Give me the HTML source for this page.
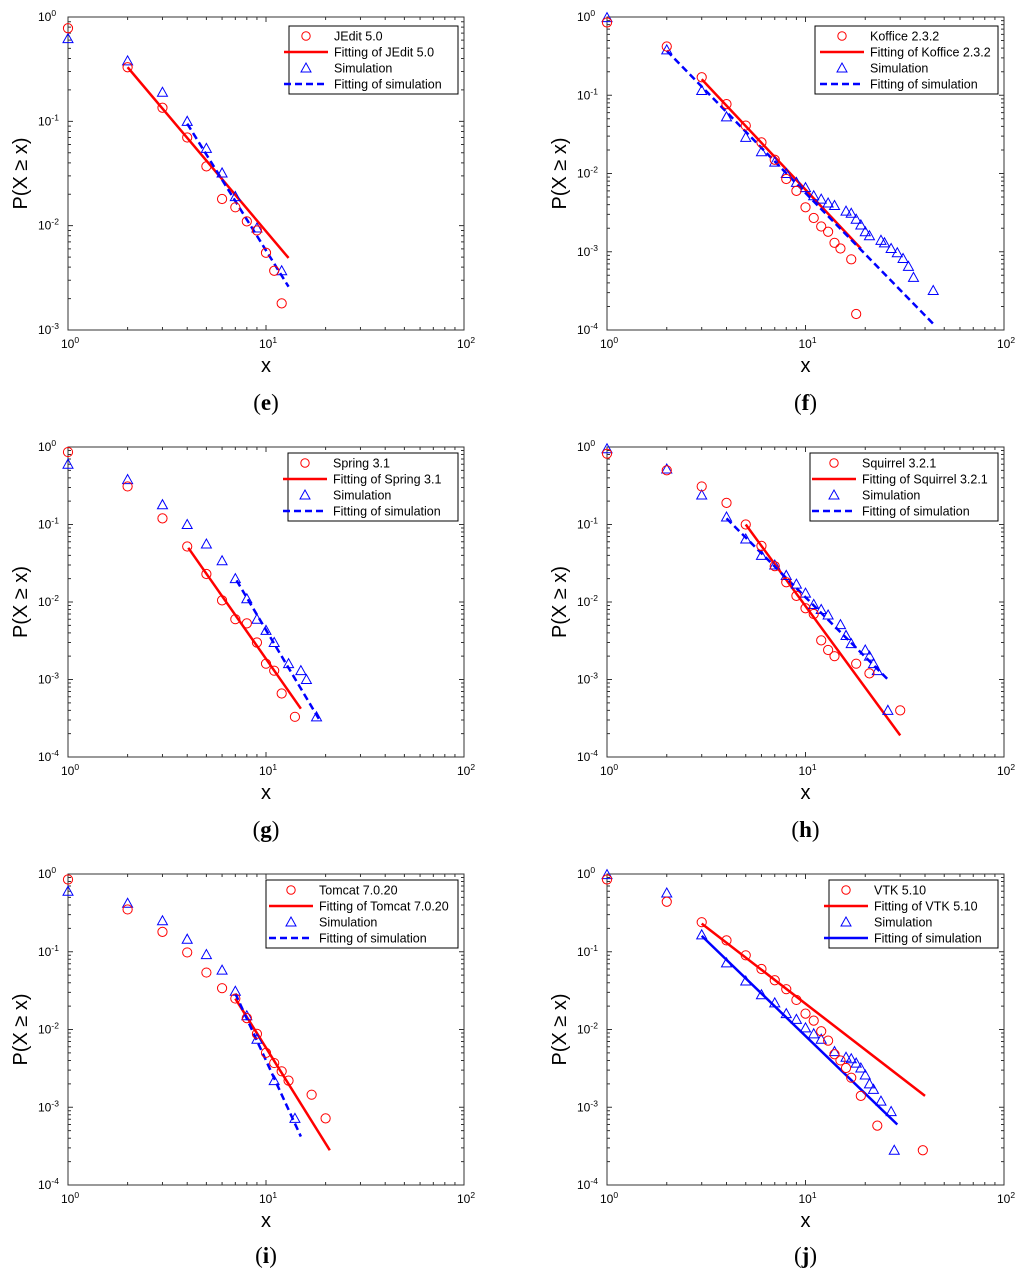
<!DOCTYPE html>
<html><head><meta charset="utf-8">
<style>
html,body{margin:0;padding:0;background:#fff;}
svg{display:block;}
text{font-family:"Liberation Sans",sans-serif;}
text.cap{font-family:"Liberation Serif",serif;}
</style></head>
<body>
<svg id="fig" width="1024" height="1278" viewBox="0 0 1024 1278" xmlns="http://www.w3.org/2000/svg"></svg>
<script>
// ---- Data (e) JEdit 5.0
const eRedX=[1,2,3,4,5,6,7,8,9,10,11,12];
const eRedY=[0.78,0.33,0.135,0.07,0.037,0.018,0.015,0.011,0.009,0.0055,0.0037,0.0018];
const eBlueX=[1,2,3,4,5,6,7,9,12];
const eBlueY=[0.62,0.38,0.19,0.1,0.055,0.032,0.019,0.0095,0.0037];
const eRedFitX=[2,13]; const eRedFitY=[0.33,0.0049];
const eBlueFitX=[4,13]; const eBlueFitY=[0.095,0.0026];
// ---- Data (f) Koffice 2.3.2
const fRedX=[1,2,3,4,5,6,7,8,9,10,11,12,13,14,15,17,18];
const fRedY=[0.85,0.42,0.17,0.077,0.041,0.025,0.015,0.0085,0.006,0.0037,0.0027,0.0021,0.0018,0.0013,0.0011,0.0008,0.00016];
const fBlueX=[1,2,3,4,5,6,7,8,9,10,11,12,13,14,16,17,18,19,20,21,24,25,27,29,31,33,35,44];
const fBlueY=[0.98,0.38,0.115,0.053,0.029,0.019,0.014,0.01,0.0077,0.0066,0.0052,0.0047,0.0042,0.0039,0.0033,0.0031,0.0026,0.0022,0.0018,0.0016,0.0014,0.0013,0.0011,0.00097,0.00082,0.00065,0.00047,0.00032];
const fRedFitX=[3,19]; const fRedFitY=[0.16,0.0011];
const fBlueFitX=[2,44]; const fBlueFitY=[0.37,0.00012];
// ---- Data (g) Spring 3.1
const gRedX=[1,2,3,4,5,6,7,8,9,10,11,12,14];
const gRedY=[0.86,0.31,0.12,0.052,0.023,0.0105,0.006,0.0053,0.003,0.0016,0.0013,0.00066,0.00033];
const gBlueX=[1,2,3,4,5,6,7,8,9,10,11,13,15,16,18];
const gBlueY=[0.6,0.38,0.18,0.1,0.056,0.034,0.02,0.011,0.006,0.0043,0.003,0.0016,0.0013,0.001,0.00033];
const gRedFitX=[4.05,15]; const gRedFitY=[0.05,0.00042];
const gBlueFitX=[7.1,18.5]; const gBlueFitY=[0.019,0.00031];
// ---- Data (h) Squirrel 3.2.1
const hRedX=[1,2,3,4,5,6,7,8,9,10,11,12,13,14,18,21,30];
const hRedY=[0.82,0.5,0.31,0.19,0.1,0.053,0.029,0.018,0.012,0.0083,0.007,0.0032,0.0024,0.002,0.0016,0.0012,0.0004];
const hBlueX=[1,2,3,4,5,6,7,8,9,10,11,12,13,15,16,17,20,21,22,23,26];
const hBlueY=[0.95,0.52,0.24,0.125,0.065,0.04,0.03,0.022,0.017,0.013,0.0093,0.008,0.0068,0.0051,0.0037,0.0029,0.0024,0.002,0.0016,0.0013,0.0004];
const hRedFitX=[5,30]; const hRedFitY=[0.1,0.00019];
const hBlueFitX=[4,26]; const hBlueFitY=[0.12,0.001];
// ---- Data (i) Tomcat 7.0.20
const iRedX=[1,2,3,4,5,6,7,8,9,10,11,12,13,17,20];
const iRedY=[0.85,0.35,0.18,0.098,0.054,0.034,0.025,0.014,0.0088,0.005,0.0037,0.0029,0.0022,0.00145,0.00072];
const iBlueX=[1,2,3,4,5,6,7,8,9,11,14];
const iBlueY=[0.6,0.42,0.25,0.145,0.092,0.058,0.031,0.015,0.0075,0.0022,0.00072];
const iRedFitX=[7,21]; const iRedFitY=[0.025,0.00028];
const iBlueFitX=[7,15]; const iBlueFitY=[0.029,0.00042];
// ---- Data (j) VTK 5.10
const jRedX=[1,2,3,4,5,6,7,8,9,10,11,12,13,14,15,16,17,19,23,39];
const jRedY=[0.85,0.44,0.24,0.14,0.09,0.06,0.043,0.033,0.024,0.016,0.013,0.0095,0.0072,0.0048,0.004,0.0032,0.0024,0.0014,0.00058,0.00028];
const jBlueX=[1,2,3,4,5,6,7,8,9,10,11,12,14,16,17,18,19,20,21,22,24,27,28];
const jBlueY=[0.98,0.57,0.165,0.072,0.042,0.028,0.022,0.016,0.0135,0.0105,0.0088,0.0075,0.0052,0.0044,0.0042,0.0037,0.0032,0.0026,0.002,0.0017,0.0012,0.00088,0.00028];
const jRedFitX=[3,40]; const jRedFitY=[0.23,0.0014];
const jBlueFitX=[3,29]; const jBlueFitY=[0.16,0.0006];

const panels=[
 {id:'e',L:68,T:17,R:464,B:330,ymin:-3,name:'JEdit 5.0',lg:[289,26,169],rx:eRedX,ry:eRedY,bx:eBlueX,by:eBlueY,rfx:eRedFitX,rfy:eRedFitY,bfx:eBlueFitX,bfy:eBlueFitY,dash:true,cap:410},
 {id:'f',L:607,T:17,R:1004,B:330,ymin:-4,name:'Koffice 2.3.2',lg:[815,26,183],rx:fRedX,ry:fRedY,bx:fBlueX,by:fBlueY,rfx:fRedFitX,rfy:fRedFitY,bfx:fBlueFitX,bfy:fBlueFitY,dash:true,cap:410},
 {id:'g',L:68,T:447,R:464,B:757,ymin:-4,name:'Spring 3.1',lg:[288,453,170],rx:gRedX,ry:gRedY,bx:gBlueX,by:gBlueY,rfx:gRedFitX,rfy:gRedFitY,bfx:gBlueFitX,bfy:gBlueFitY,dash:true,cap:837},
 {id:'h',L:607,T:447,R:1004,B:757,ymin:-4,name:'Squirrel 3.2.1',lg:[810,453,188],rx:hRedX,ry:hRedY,bx:hBlueX,by:hBlueY,rfx:hRedFitX,rfy:hRedFitY,bfx:hBlueFitX,bfy:hBlueFitY,dash:true,cap:837},
 {id:'i',L:68,T:874,R:464,B:1185,ymin:-4,name:'Tomcat 7.0.20',lg:[266,880,192],rx:iRedX,ry:iRedY,bx:iBlueX,by:iBlueY,rfx:iRedFitX,rfy:iRedFitY,bfx:iBlueFitX,bfy:iBlueFitY,dash:true,cap:1263},
 {id:'j',L:607,T:874,R:1004,B:1185,ymin:-4,name:'VTK 5.10',lg:[829,880,169],rx:jRedX,ry:jRedY,bx:jBlueX,by:jBlueY,rfx:jRedFitX,rfy:jRedFitY,bfx:jBlueFitX,bfy:jBlueFitY,dash:false,cap:1263}
];
const NS='http://www.w3.org/2000/svg';
const svg=document.getElementById('fig');
function mk(tag,attrs,parent,txt){const e=document.createElementNS(NS,tag);for(const k in attrs)e.setAttribute(k,attrs[k]);if(txt!==undefined)e.textContent=txt;parent.appendChild(e);return e;}
panels.forEach(p=>{
  const g=mk('g',{},svg);
  
  
  const sx=v=>p.L+(Math.log10(v)-0)/2*(p.R-p.L);
  const sy=v=>p.T+(0-Math.log10(v))/(-p.ymin)*(p.B-p.T);
  const box=mk('rect',{x:p.L,y:p.T,width:p.R-p.L,height:p.B-p.T,fill:'#fff',stroke:'#333','stroke-width':1},g);
  
  
  let tk='';
  for(let d=0;d<2;d++)for(let m=1;m<=9;m++){const v=Math.pow(10,d)*m;const x=sx(v);const len=m===1?5:3;
    tk+=`M${x},${p.B}v${-len}M${x},${p.T}v${len}`;}
  for(let d=p.ymin;d<0;d++)for(let m=1;m<=9;m++){const v=Math.pow(10,d)*m;const y=sy(v);const len=m===1?5:3;
    tk+=`M${p.L},${y}h${len}M${p.R},${y}h${-len}`;}
  const tp=mk('path',{d:tk,stroke:'#333','stroke-width':1,fill:'none'},g);
  
  
  [0,1,2].forEach(e=>{const t=mk('text',{x:sx(Math.pow(10,e))-7,y:p.B+18,'font-size':12,fill:'#000'},g);
    
    
    mk('tspan',{},t,'10');mk('tspan',{dy:-5,'font-size':8.5},t,String(e));});
  for(let e=p.ymin;e<=0;e++){const t=mk('text',{x:p.L-30,y:sy(Math.pow(10,e))+4,'font-size':12,fill:'#000'},g);
    
    
    mk('tspan',{},t,'10');mk('tspan',{dy:-5,'font-size':8.5},t,String(e));}
  const xl=mk('text',{x:(p.L+p.R)/2,y:p.B+42,'font-size':20,'text-anchor':'middle'},g,'x');
  
  
  const cy=(p.T+p.B)/2;
  const yl=mk('text',{x:p.L-41,y:cy,'font-size':20,'text-anchor':'middle',transform:`rotate(-90 ${p.L-41} ${cy})`},g,'P(X \u2265 x)');
  
  
  const cp=mk('text',{x:(p.L+p.R)/2,y:p.cap,'font-size':23,'text-anchor':'middle','class':'cap'},g);
  
  
  mk('tspan',{},cp,'(');mk('tspan',{'font-weight':'bold'},cp,p.id);mk('tspan',{},cp,')');
  const rf=mk('line',{x1:sx(p.rfx[0]),y1:sy(p.rfy[0]),x2:sx(p.rfx[1]),y2:sy(p.rfy[1]),stroke:'#ff0000','stroke-width':2.5},g);
  
  
  const bf=mk('line',{x1:sx(p.bfx[0]),y1:sy(p.bfy[0]),x2:sx(p.bfx[1]),y2:sy(p.bfy[1]),stroke:'#0000ff','stroke-width':2.5},g);
  if(p.dash)bf.setAttribute('stroke-dasharray','7,4');
  
  
  p.bx.forEach((x,i)=>{const X=sx(x),Y=sy(p.by[i]);
    const t=mk('path',{d:`M${X-5},${Y+4}L${X},${Y-5}L${X+5},${Y+4}Z`,fill:'none',stroke:'#0000ff','stroke-width':1},g);
    
    });
  p.rx.forEach((x,i)=>{const c=mk('circle',{cx:sx(x),cy:sy(p.ry[i]),r:4.6,fill:'none',stroke:'#ff0000','stroke-width':1},g);
    
    });
  const [lx,ly,lw]=p.lg;
  const lgG=mk('g',{},g);
  
  
  mk('rect',{x:lx,y:ly,width:lw,height:68,fill:'#fff',stroke:'#000','stroke-width':1},lgG);
  const tx=lx+(p.id==='f'?55:p.id==='h'?52:p.id==='i'?53:45);
  const ls=tx-50;
  const rows=[p.name,'Fitting of '+p.name,'Simulation','Fitting of simulation'];
  rows.forEach((r,k)=>{const yy=ly+10+k*16;
    const t=mk('text',{x:tx,y:yy+4.5,'font-size':12.5},lgG,r);
    
    });
  const mx=(ls+tx-6)/2;
  mk('circle',{cx:mx,cy:ly+10,r:4.2,fill:'none',stroke:'#ff0000'},lgG);
  mk('line',{x1:ls,y1:ly+26,x2:tx-6,y2:ly+26,stroke:'#ff0000','stroke-width':2.5},lgG);
  mk('path',{d:`M${mx-5},${ly+46}L${mx},${ly+37}L${mx+5},${ly+46}Z`,fill:'none',stroke:'#0000ff'},lgG);
  const bl=mk('line',{x1:ls,y1:ly+58,x2:tx-6,y2:ly+58,stroke:'#0000ff','stroke-width':2.5},lgG);
  if(p.dash)bl.setAttribute('stroke-dasharray','7,4');
});
</script>
</body></html>
